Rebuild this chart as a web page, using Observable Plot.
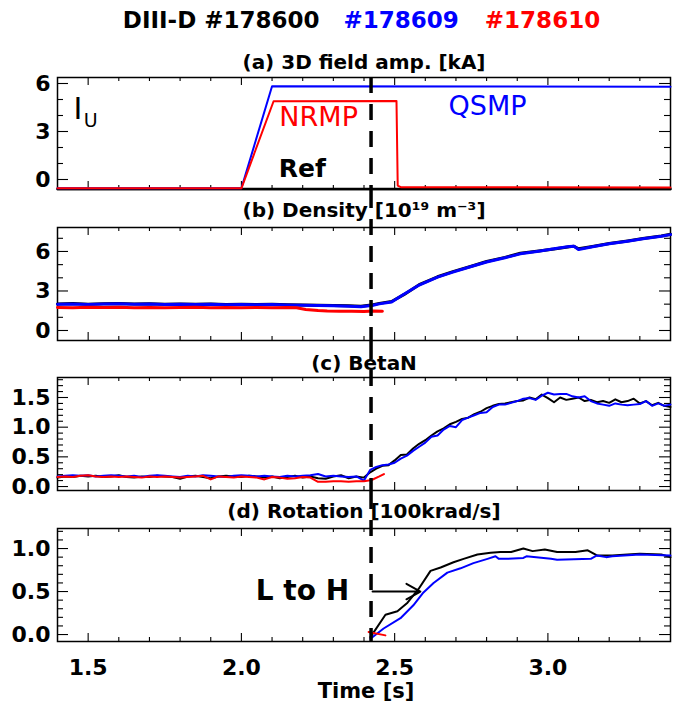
<!DOCTYPE html>
<html>
<head>
<meta charset="utf-8">
<script src="https://cdn.jsdelivr.net/npm/d3@7"></script>
<script src="https://cdn.jsdelivr.net/npm/@observablehq/plot@0.6"></script>
<style>
  html, body { margin: 0; padding: 0; background: white; overflow: hidden; }
  #title { height: 40px; line-height: 40px; font-family: "DejaVu Sans", sans-serif; font-weight: bold; font-size: 23px;
           width: 677px; box-sizing: border-box; padding-left: 46px; text-align: center; white-space: nowrap; }
  #chart svg { display: block; }
</style>
</head>
<body>
<div id="title"><span style="color:#000">DIII-D #178600</span><span style="color:#0000ff;margin-left:24px">#178609</span><span style="color:#ff0000;margin-left:26px">#178610</span></div>
<div id="chart"></div>
<script>
// ---------- data ----------
const shots = ["Ref #178600", "QSMP #178609", "NRMP #178610"];
const panelTitles = ["(a) 3D field amp. [kA]", "(b) Density [10\u00B9\u2079 m\u207B\u00B3]", "(c) BetaN", "(d) Rotation [100krad/s]"];
const xTickLabels = [1.5, 2.0, 2.5, 3.0];
const xMinorTicks = [1.6, 1.7, 1.8, 1.9, 2.1, 2.2, 2.3, 2.4, 2.6, 2.7, 2.8, 2.9, 3.1, 3.2, 3.3];
const transitionTime = [2.423];

// (a) 3D field amplitude [kA]
const ampTimeRef = [1.4, 3.4];
const ampRef = [-0.6, -0.6];
const ampTimeQSMP = [1.4, 2.0, 2.1, 3.4];
const ampQSMP = [-0.55, -0.55, 5.83, 5.8];
const ampTimeNRMP = [1.4, 2.0, 2.105, 2.506, 2.51, 2.52, 3.4];
const ampNRMP = [-0.55, -0.55, 4.89, 4.9, -0.38, -0.48, -0.5];
const ampTicks = [0, 3, 6];
const ampMinor = [1, 2, 4, 5];

// (b) Density [1e19 m^-3]
const densTime = [1.40,1.45,1.50,1.55,1.60,1.65,1.70,1.75,1.80,1.85,1.90,1.95,2.00,2.05,2.10,2.15,2.20,2.25,2.30,2.35,2.39,2.43,2.45,2.49,2.53,2.58,2.64,2.69,2.75,2.80,2.86,2.91,2.97,3.02,3.07,3.085,3.10,3.15,3.20,3.26,3.31,3.37,3.40];
const densRef  = [2.02,2.04,2.00,2.03,2.05,2.01,2.03,2.00,2.02,1.99,2.01,1.98,2.00,1.97,1.99,1.95,1.93,1.91,1.89,1.87,1.84,1.96,2.06,2.20,2.72,3.48,4.08,4.47,4.88,5.24,5.55,5.86,6.04,6.18,6.36,6.40,6.20,6.40,6.60,6.80,6.98,7.18,7.30];
const densQSMP = [2.00,2.02,1.98,2.01,2.03,1.99,2.01,1.98,2.00,1.97,1.99,1.96,1.98,1.95,1.97,1.93,1.91,1.89,1.87,1.84,1.80,1.92,2.02,2.16,2.75,3.45,4.05,4.43,4.86,5.20,5.52,5.82,6.02,6.20,6.38,6.40,6.15,6.38,6.58,6.78,6.96,7.16,7.28];
const densTimeNRMP = [1.40,1.45,1.50,1.55,1.60,1.65,1.70,1.75,1.80,1.85,1.90,1.95,2.00,2.05,2.10,2.15,2.18,2.21,2.25,2.28,2.32,2.36,2.40,2.43,2.46];
const densNRMP = [1.75,1.72,1.77,1.74,1.76,1.73,1.75,1.72,1.74,1.76,1.73,1.75,1.72,1.74,1.73,1.75,1.72,1.60,1.52,1.48,1.46,1.47,1.45,1.48,1.46];
const densTicks = [0, 3, 6];
const densMinor = [1, 2, 4, 5, 7];

// (c) BetaN
const betaTime = [1.40,1.425,1.45,1.475,1.50,1.525,1.55,1.575,1.60,1.625,1.65,1.675,1.70,1.725,1.75,1.775,1.80,1.825,1.85,1.875,1.90,1.925,1.95,1.975,2.00,2.025,2.05,2.075,2.10,2.125,2.15,2.175,2.20,2.225,2.25,2.275,2.30,2.325,2.35,2.375,2.40,
  2.42,2.44,2.46,2.48,2.50,2.52,2.54,2.56,2.58,2.60,2.62,2.64,2.66,2.68,2.70,2.72,2.74,2.76,2.78,2.80,2.82,2.84,2.86,2.88,2.90,2.92,2.94,2.96,2.98,3.00,3.02,3.04,3.06,3.08,3.10,3.12,3.14,3.16,3.18,3.20,3.22,3.24,3.26,3.28,3.30,3.32,3.34,3.36,3.38,3.40];
const betaRef = [0.15,0.17,0.16,0.18,0.17,0.18,0.16,0.17,0.19,0.16,0.15,0.17,0.16,0.18,0.17,0.16,0.13,0.17,0.18,0.16,0.14,0.17,0.18,0.17,0.16,0.18,0.17,0.15,0.17,0.14,0.16,0.18,0.15,0.17,0.14,0.13,0.17,0.19,0.14,0.17,0.15,
  0.24,0.30,0.35,0.36,0.44,0.53,0.54,0.64,0.72,0.78,0.86,0.93,0.98,1.05,1.09,1.14,1.16,1.22,1.26,1.32,1.36,1.39,1.40,1.42,1.44,1.45,1.50,1.47,1.55,1.49,1.42,1.50,1.46,1.48,1.50,1.44,1.46,1.42,1.44,1.41,1.47,1.42,1.44,1.48,1.40,1.44,1.37,1.41,1.36,1.34];
const betaQSMP = [0.17,0.18,0.19,0.18,0.19,0.17,0.18,0.19,0.18,0.17,0.18,0.16,0.18,0.19,0.18,0.17,0.16,0.18,0.17,0.19,0.18,0.17,0.16,0.18,0.19,0.18,0.17,0.18,0.17,0.16,0.18,0.17,0.18,0.19,0.21,0.17,0.18,0.17,0.16,0.17,0.10,
  0.28,0.33,0.36,0.37,0.40,0.47,0.52,0.60,0.67,0.74,0.84,0.86,0.96,1.02,1.00,1.12,1.16,1.20,1.24,1.25,1.34,1.38,1.38,1.41,1.44,1.48,1.49,1.46,1.53,1.58,1.55,1.56,1.56,1.52,1.50,1.52,1.44,1.40,1.38,1.36,1.40,1.38,1.37,1.38,1.39,1.44,1.36,1.40,1.36,1.38];
const betaTimeNRMP = [1.40,1.425,1.45,1.475,1.50,1.525,1.55,1.575,1.60,1.625,1.65,1.675,1.70,1.725,1.75,1.775,1.80,1.825,1.85,1.875,1.90,1.925,1.95,1.975,2.00,2.025,2.05,2.075,2.10,2.125,2.15,2.175,2.20,2.225,2.25,2.275,2.30,2.325,2.35,2.375,2.40,2.425,2.45,2.465];
const betaNRMP = [0.16,0.17,0.16,0.18,0.19,0.17,0.16,0.17,0.16,0.17,0.16,0.15,0.17,0.16,0.17,0.16,0.15,0.16,0.17,0.18,0.12,0.17,0.16,0.15,0.17,0.16,0.15,0.12,0.16,0.15,0.13,0.14,0.16,0.15,0.08,0.08,0.09,0.09,0.08,0.09,0.09,0.11,0.17,0.21];
const betaTicks = [0, 0.5, 1.0, 1.5];
const betaMinor = [0.1,0.2,0.3,0.4,0.6,0.7,0.8,0.9,1.1,1.2,1.3,1.4,1.6,1.7,1.8];

// (d) Rotation [100 krad/s]
const rotTimeRef = [2.421,2.47,2.509,2.542,2.578,2.617,2.65,2.692,2.725,2.77,2.813,2.845,2.88,2.92,2.95,2.99,3.03,3.09,3.13,3.16,3.21,3.26,3.30,3.37,3.40];
const rotRef = [-0.03,0.23,0.27,0.37,0.53,0.74,0.78,0.84,0.88,0.93,0.95,0.96,0.96,1.00,0.97,0.99,0.96,0.96,0.98,0.92,0.92,0.93,0.94,0.93,0.90];
const rotTimeQSMP = [2.421,2.464,2.519,2.561,2.594,2.627,2.672,2.715,2.757,2.803,2.829,2.84,2.87,2.92,2.93,3.01,3.03,3.14,3.16,3.19,3.21,3.30,3.40];
const rotQSMP = [-0.05,0.07,0.19,0.34,0.49,0.60,0.72,0.77,0.83,0.88,0.91,0.88,0.88,0.89,0.91,0.88,0.87,0.88,0.92,0.90,0.91,0.93,0.92];
const rotTimeNRMP = [2.415, 2.47];
const rotNRMP = [0.03, -0.01];
const rotTicks = [0, 0.5, 1.0];
const rotMinor = [0.1,0.2,0.3,0.4,0.6,0.7,0.8,0.9,1.1,1.2];

// ---------- drawing ----------
const W = 677, ML = 57, MR = 7, FW = W - ML - MR;
const BLACK = "#000000", BLUE = "#0000ff", RED = "#ff0000";
const FONT = "DejaVu Sans";
const TICKFONT = 22;
const zip = (ts, vs) => ts.map((t, i) => ({t, v: vs[i]}));

function frameTicks(yMajor, yMinor, fh) {
  const s = {stroke: BLACK, strokeWidth: 1.1};
  return [
    Plot.ruleY(yMinor, {...s, insetRight: FW - 6}),
    Plot.ruleY(yMinor, {...s, insetLeft: FW - 6}),
    Plot.ruleY(yMajor, {...s, insetRight: FW - 11}),
    Plot.ruleY(yMajor, {...s, insetLeft: FW - 11}),
    Plot.ruleX(xMinorTicks, {...s, insetTop: fh - 4}),
    Plot.ruleX(xMinorTicks, {...s, insetBottom: fh - 4}),
    Plot.ruleX(xTickLabels, {...s, insetTop: fh - 8}),
    Plot.ruleX(xTickLabels, {...s, insetBottom: fh - 8}),
    Plot.frame({stroke: BLACK, strokeWidth: 1.5})
  ];
}

function panel({height, mt, mb, yDomain, yMajor, yMinor, fmt, lines, extra = [], title, titleDy, insetTop, insetBottom, xAxis = false}) {
  const fh = height - mt - mb;
  const marks = [
    ...frameTicks(yMajor, yMinor, fh),
    ...lines.map(([data, color, sw]) => Plot.line(data, {x: "t", y: "v", stroke: color, strokeWidth: sw, strokeLinejoin: "round"})),
    Plot.axisY({ticks: yMajor, tickFormat: fmt, tickSize: 0, tickPadding: 7, fontSize: TICKFONT, fontWeight: "bold", fontFamily: FONT, label: null}),
    ...extra,
    Plot.text([title], {text: d => d, frameAnchor: "top", lineAnchor: "middle", dy: titleDy, fontSize: 20, fontWeight: "bold", fontFamily: FONT, fill: BLACK}),
    Plot.ruleX(transitionTime, {stroke: BLACK, strokeWidth: 3.5, strokeDasharray: "16,11", insetTop, insetBottom})
  ];
  if (xAxis) {
    marks.push(Plot.axisX({ticks: xTickLabels, tickFormat: d => d.toFixed(1), tickSize: 0, tickPadding: 18, fontSize: TICKFONT, fontWeight: "bold", fontFamily: FONT, label: null}));
    marks.push(Plot.text(["Time [s]"], {text: d => d, frameAnchor: "bottom", lineAnchor: "middle", dy: 50, dx: 2, fontSize: 21, fontWeight: "bold", fontFamily: FONT}));
  }
  return Plot.plot({
    width: W, height, marginLeft: ML, marginRight: MR, marginTop: mt, marginBottom: mb,
    style: {fontFamily: FONT, background: "white", overflow: "visible", color: "black"},
    x: {domain: [1.4, 3.4], ...(xAxis ? {} : {axis: null})},
    y: {domain: yDomain},
    marks
  });
}

const chart = document.getElementById("chart");

chart.append(panel({
  height: 152, mt: 37, mb: 3, yDomain: [-0.625, 6.375], yMajor: ampTicks, yMinor: ampMinor, fmt: d => String(d),
  lines: [[zip(ampTimeRef, ampRef), BLACK, 2.5], [zip(ampTimeQSMP, ampQSMP), BLUE, 2], [zip(ampTimeNRMP, ampNRMP), RED, 2]],
  extra: [
    Plot.text(["I"], {text: d => d, x: 1.467, y: 4.375, fontSize: 30, fontFamily: FONT, fill: BLACK}),
    Plot.text(["U"], {text: d => d, x: 1.508, y: 3.69, fontSize: 19, fontFamily: FONT, fill: BLACK}),
    Plot.text(["NRMP"], {text: d => d, x: 2.252, y: 3.875, fontSize: 27, fontFamily: FONT, fill: RED}),
    Plot.text(["QSMP"], {text: d => d, x: 2.803, y: 4.56, fontSize: 27, fontFamily: FONT, fill: BLUE}),
    Plot.text(["Ref"], {text: d => d, x: 2.199, y: 0.66, fontSize: 25, fontWeight: "bold", fontFamily: FONT, fill: BLACK})
  ],
  title: panelTitles[0], titleDy: -15, insetTop: 0, insetBottom: -3
}));

chart.append(panel({
  height: 151, mt: 35, mb: 3, yDomain: [-0.76, 7.82], yMajor: densTicks, yMinor: densMinor, fmt: d => String(d),
  lines: [[zip(densTime, densRef), BLACK, 3], [zip(densTime, densQSMP), BLUE, 3], [zip(densTimeNRMP, densNRMP), RED, 3]],
  title: panelTitles[1], titleDy: -17, insetTop: -35, insetBottom: -3
}));

chart.append(panel({
  height: 150, mt: 34, mb: 3, yDomain: [-0.067, 1.837], yMajor: betaTicks, yMinor: betaMinor, fmt: d => d.toFixed(1),
  lines: [[zip(betaTime, betaRef), BLACK, 2], [zip(betaTime, betaQSMP), BLUE, 2], [zip(betaTimeNRMP, betaNRMP), RED, 2]],
  title: panelTitles[2], titleDy: -14, insetTop: -34, insetBottom: -3
}));

chart.append(panel({
  height: 214, mt: 35, mb: 66, yDomain: [-0.081, 1.233], yMajor: rotTicks, yMinor: rotMinor, fmt: d => d.toFixed(1),
  lines: [[zip(rotTimeRef, rotRef), BLACK, 2], [zip(rotTimeQSMP, rotQSMP), BLUE, 2], [zip(rotTimeNRMP, rotNRMP), RED, 2]],
  extra: [
    Plot.text(["L to H"], {text: d => d, x: 2.199, y: 0.51, fontSize: 28, fontWeight: "bold", fontFamily: FONT, fill: BLACK}),
    Plot.arrow([{x1: 2.428, x2: 2.584, y: 0.5}], {x1: "x1", x2: "x2", y1: "y", y2: "y", stroke: BLACK, strokeWidth: 2, headLength: 15, headAngle: 58})
  ],
  title: panelTitles[3], titleDy: -17, insetTop: -35, insetBottom: 0, xAxis: true
}));
</script>
</body>
</html>
